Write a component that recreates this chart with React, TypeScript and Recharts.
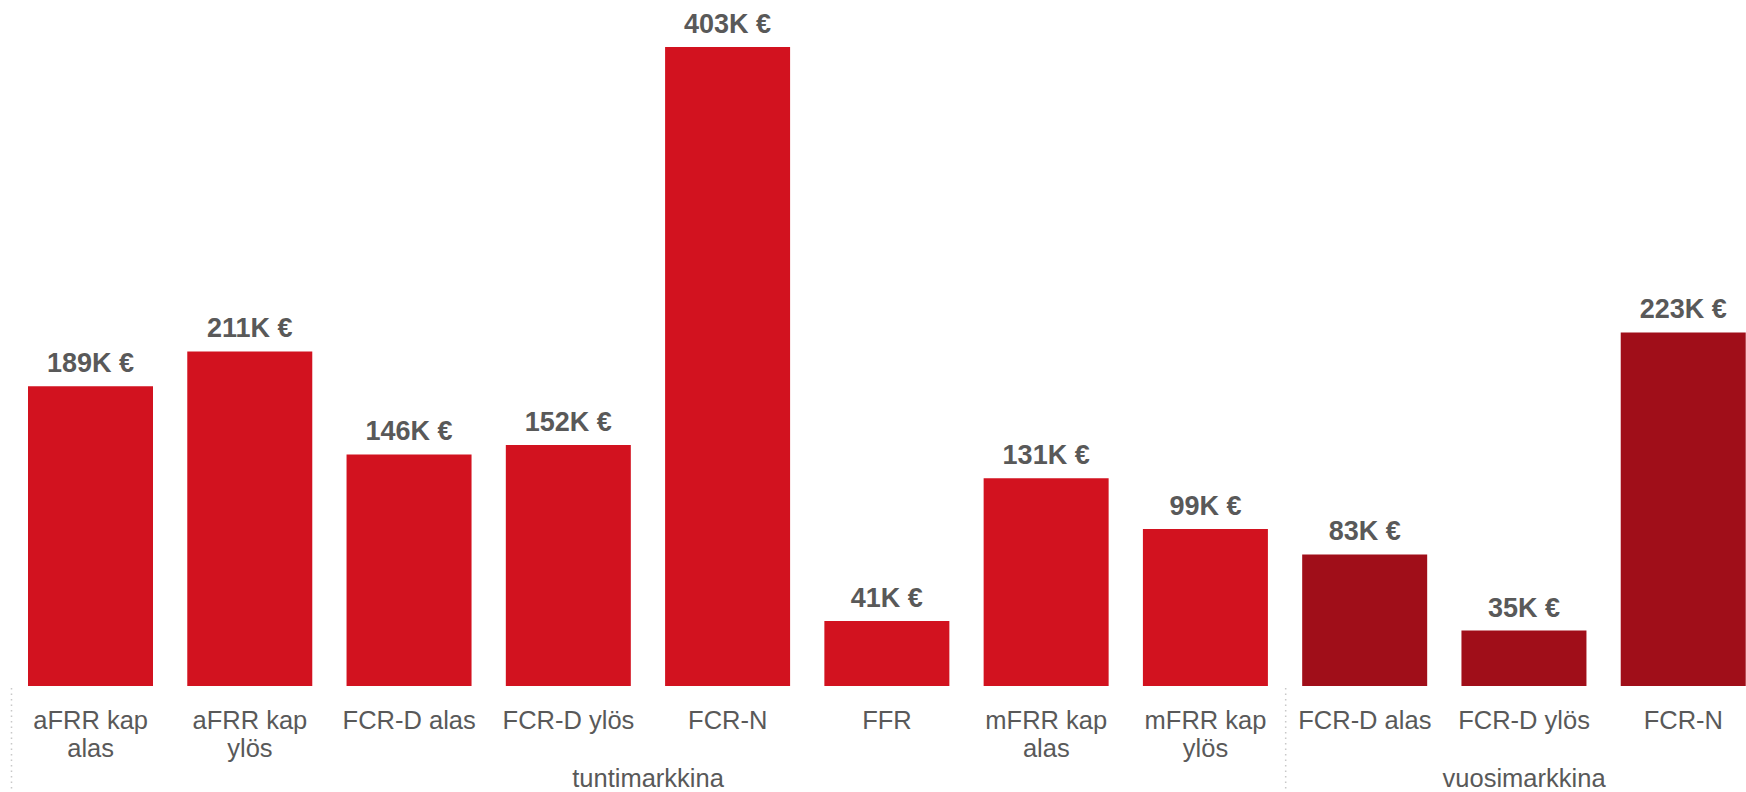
import React from "react";
import { BarChart, Bar, XAxis, YAxis, Cell, LabelList } from "recharts";

const categoryIds = ["c0", "c1", "c2", "c3", "c4", "c5", "c6", "c7", "c8", "c9", "c10"];
const categoryLines: string[][] = [
  ["aFRR kap", "alas"],
  ["aFRR kap", "ylös"],
  ["FCR-D alas"],
  ["FCR-D ylös"],
  ["FCR-N"],
  ["FFR"],
  ["mFRR kap", "alas"],
  ["mFRR kap", "ylös"],
  ["FCR-D alas"],
  ["FCR-D ylös"],
  ["FCR-N"],
];
const values = [189, 211, 146, 152, 403, 41, 131, 99, 83, 35, 223];
const groupOf = [0, 0, 0, 0, 0, 0, 0, 0, 1, 1, 1];
const groupNames = ["tuntimarkkina", "vuosimarkkina"];
const groupStarts = [0, 8];
const groupSizes = [8, 3];

const groupColors = ["#D2121F", "#A00E19"];
const textColor = "#595959";
const FONT = "Arial, 'Liberation Sans', sans-serif";

const data = categoryIds.map((id, i) => ({ id, value: values[i], group: groupOf[i] }));

const Tick = (props: any) => {
  const { x, y, payload } = props;
  const idx = categoryIds.indexOf(payload.value);
  const half = payload.offset ?? 79.6;
  const lines = categoryLines[idx] || [];
  const gi = groupStarts.indexOf(idx);
  return (
    <g>
      {lines.map((l, k) => (
        <text
          key={k}
          x={x}
          y={y + 43.3 + k * 27.4}
          textAnchor="middle"
          fill={textColor}
          fontSize={25.5}
          fontFamily={FONT}
        >
          {l}
        </text>
      ))}
      {gi >= 0 && (
        <g>
          <line
            x1={x - half + 0.5}
            x2={x - half + 0.5}
            y1={y + 2}
            y2={y + 104}
            stroke="#c8c8c8"
            strokeWidth={1.5}
            strokeDasharray="1.5 4"
          />
          <text
            x={x - half + groupSizes[gi] * half}
            y={y + 100.7}
            textAnchor="middle"
            fill={textColor}
            fontSize={25.5}
            fontFamily={FONT}
          >
            {groupNames[gi]}
          </text>
        </g>
      )}
    </g>
  );
};

export default function App() {
  return (
    <div
      style={{
        position: "absolute",
        left: 0,
        top: 0,
        width: 1746,
        height: 792,
        overflow: "hidden",
        background: "#fff",
      }}
    >
      <BarChart
        width={1771}
        height={792}
        data={data}
        margin={{ top: 20, right: 8, bottom: 0, left: 11 }}
        barCategoryGap={17}
      >
        <XAxis
          dataKey="id"
          axisLine={false}
          tickLine={false}
          tickSize={0}
          tickMargin={0}
          height={106}
          interval={0}
          tick={<Tick />}
        />
        <YAxis hide domain={[0, 420]} />
        <Bar dataKey="value" isAnimationActive={false}>
          {data.map((d, i) => (
            <Cell key={i} fill={groupColors[d.group]} />
          ))}
          <LabelList
            dataKey="value"
            position="top"
            offset={14}
            formatter={(v: any) => `${v}K €`}
            fill={textColor}
            fontSize={27}
            fontWeight="bold"
            fontFamily={FONT}
          />
        </Bar>
      </BarChart>
    </div>
  );
}
